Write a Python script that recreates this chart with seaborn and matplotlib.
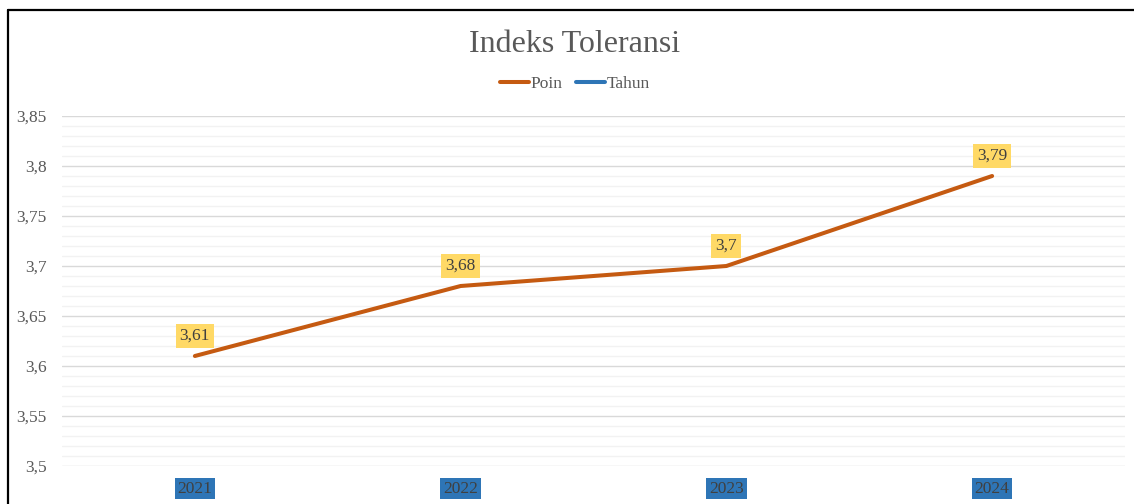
import matplotlib
matplotlib.use("Agg")
import matplotlib.pyplot as plt
import seaborn as sns
import pandas as pd
import numpy as np
from matplotlib.ticker import MultipleLocator, FuncFormatter
from matplotlib.lines import Line2D

years = ["2021", "2022", "2023", "2024"]
poin = [3.61, 3.68, 3.70, 3.79]
tahun = [2021, 2022, 2023, 2024]
series_names = ["Poin", "Tahun"]
point_labels = ["3,61", "3,68", "3,7", "3,79"]
title = "Indeks Toleransi"

sns.set_theme(style="white")
plt.rcParams['font.family'] = ['Liberation Serif', 'DejaVu Serif']

df = pd.DataFrame({
    "Tahun_kat": years * 2,
    "Nilai": poin + tahun,
    "Seri": ["Poin"] * 4 + ["Tahun"] * 4,
})

fig = plt.figure(figsize=(11.34, 5.04), dpi=100)
ax = fig.add_axes([62/1134, 1-466/504, (1125-62)/1134, (466-116)/504])

sns.lineplot(data=df, x="Tahun_kat", y="Nilai", hue="Seri", hue_order=series_names,
             palette={"Poin": "#c55a11", "Tahun": "#2e75b6"}, linewidth=2.9,
             ax=ax, legend=False, sort=False)

ax.set_xlim(-0.5, 3.5)
ax.set_ylim(3.5, 3.85)
ax.yaxis.set_major_locator(MultipleLocator(0.05))
ax.yaxis.set_minor_locator(MultipleLocator(0.01))
ax.yaxis.set_major_formatter(FuncFormatter(lambda v, p: (f"{v:.2f}".rstrip("0").rstrip(".")).replace(".", ",")))
ax.grid(which="major", axis="y", color="#d9d9d9", linewidth=1.0)
ax.grid(which="minor", axis="y", color="#f2f2f2", linewidth=1.0)
ax.set_axisbelow(True)
for s in ax.spines.values():
    s.set_visible(False)
ax.tick_params(axis="y", which="both", length=0, pad=11, labelsize=12.5, labelcolor="#595959")
ax.tick_params(axis="x", length=0, pad=10.5, labelsize=12.5, labelcolor="#404040")
ax.set_xlabel("")
ax.set_ylabel("")
for t in ax.get_xticklabels():
    t.set_bbox(dict(facecolor="#2e75b6", edgecolor="none", pad=2.0))

for i, (v, lab) in enumerate(zip(poin, point_labels)):
    ax.annotate(lab, (i, v), xytext=(0, 14.4), textcoords="offset points",
                ha="center", va="center", fontsize=12.5, color="#404040",
                bbox=dict(facecolor="#ffd966", edgecolor="none", pad=3))

fig.text(575/1134, 1-44/504, title, ha="center", va="center", fontsize=23, color="#595959")

handles = [Line2D([], [], color="#c55a11", linewidth=2.9, solid_capstyle="round"),
           Line2D([], [], color="#2e75b6", linewidth=2.9, solid_capstyle="round")]
fig.legend(handles, series_names, loc="center", bbox_to_anchor=(575/1134, 1-84/504), ncol=2,
           frameon=False, fontsize=12.5, labelcolor="#595959", handlelength=1.7,
           handletextpad=0.1, columnspacing=0.75)

# outer border (top and left)
fig.add_artist(Line2D([7.5/1134, 7.5/1134], [0, 1-9.5/504], transform=fig.transFigure, color="black", linewidth=1.6))
fig.add_artist(Line2D([7.5/1134, 1], [1-9.5/504, 1-9.5/504], transform=fig.transFigure, color="black", linewidth=1.6))

fig.savefig("out.png", dpi=100)
